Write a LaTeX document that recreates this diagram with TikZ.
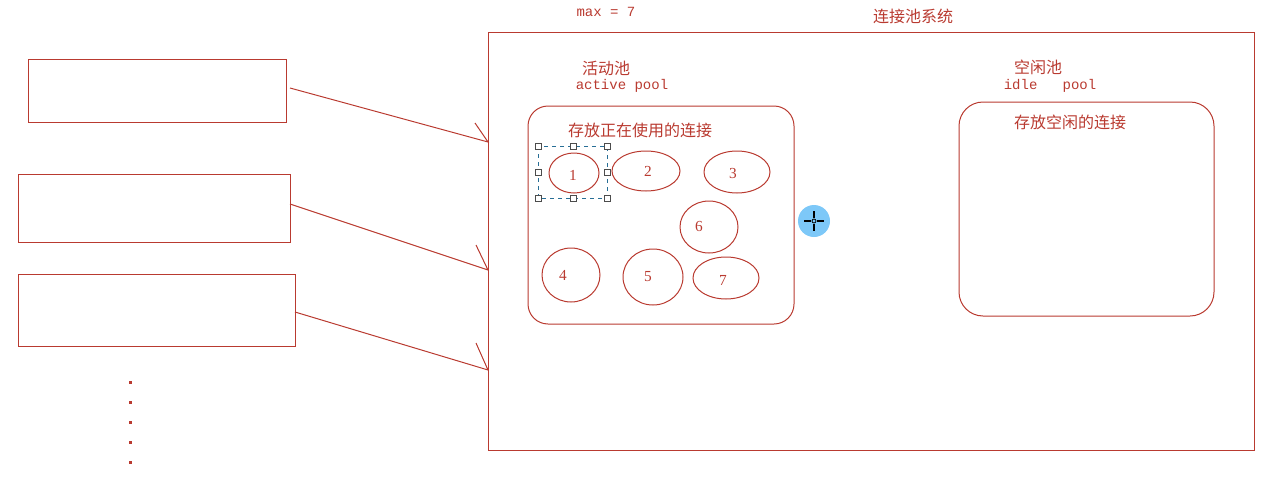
\documentclass[tikz,border=0pt]{standalone}
\usepackage{fontspec}
\newfontfamily\cjk{Noto Sans CJK SC}
\newfontfamily\mono{Liberation Mono}
\newfontfamily\digit{Liberation Serif}
\definecolor{dred}{RGB}{185,58,48}
\definecolor{selblue}{RGB}{40,110,150}
\definecolor{curblue}{RGB}{125,200,248}
\begin{document}
\begin{tikzpicture}[x=0.75pt,y=-0.75pt,
  box/.style={draw=dred,line width=0.75pt},
  conn/.style={draw=dred,line width=0.75pt},
  cjktext/.style={text=dred,font=\cjk\fontsize{12}{14}\selectfont,inner sep=0pt},
  monotext/.style={text=dred,font=\mono\fontsize{10.5}{12}\selectfont,inner sep=0pt},
  num/.style={text=dred,font=\digit\fontsize{11.5}{13}\selectfont,inner sep=0pt},
  handle/.style={draw=black!70,fill=white,line width=0.5pt,minimum size=4.5pt,inner sep=0pt,rectangle}]
\useasboundingbox (0,0) rectangle (1279,482);
% titles
\node[monotext] (max) at (606,12) {max = 7};
\node[cjktext] (sys) at (913,16) {连接池系统};
% big system rectangle
\draw[box] (488,32) rectangle (1254,450);
% left boxes
\draw[box] (28,59) rectangle (286,122);
\draw[box] (18,174) rectangle (290,242);
\draw[box] (18,274) rectangle (295,346);
\coordinate (s1) at (290,88);
\coordinate (s2) at (290,204);
\coordinate (s3) at (295,312);
\coordinate (e1) at (488,142);
\coordinate (e2) at (488,270);
\coordinate (e3) at (488,370);
\draw[conn] (s1) -- (e1) -- ++(-13,-19);
\draw[conn] (s2) -- (e2) -- ++(-12,-25);
\draw[conn] (s3) -- (e3) -- ++(-12,-27);
% dots
\foreach \yy in {382,402,422,442,462}
  \fill[dred] (129,\yy-1) rectangle (131.5,\yy+1.5);
% active pool
\node[cjktext] (act) at (606,68) {活动池};
\node[monotext] (actl) at (622,86) {active pool};
\draw[box,rounded corners=15] (528,106) rectangle (794,324);
\node[cjktext] (actd) at (640,130) {存放正在使用的连接};
% ellipses
\draw[conn] (574,173) ellipse [x radius=25, y radius=20];
\draw[conn] (646,171) ellipse [x radius=34, y radius=20];
\draw[conn] (737,172) ellipse [x radius=33, y radius=21];
\draw[conn] (709,227) ellipse [x radius=29, y radius=26];
\draw[conn] (571,275) ellipse [x radius=29, y radius=27];
\draw[conn] (653,277) ellipse [x radius=30, y radius=28];
\draw[conn] (726,278) ellipse [x radius=33, y radius=21];
\node[num] (n1) at (573,175) {1};
\node[num] (n2) at (648,171) {2};
\node[num] (n3) at (733,173) {3};
\node[num] (n6) at (699,226) {6};
\node[num] (n4) at (563,275) {4};
\node[num] (n5) at (648,277) {5};
\node[num] (n7) at (723,280) {7};
% selection box
\draw[selblue,dashed,line width=0.75pt] (538,146) rectangle (607,198);
\foreach \px/\py in {538/146,573/146,607/146,538/172,607/172,538/198,573/198,607/198}
  \node[handle] at (\px,\py) {};
% cursor
\fill[curblue] (814,221) circle [radius=16];
\draw[black,line width=0.9pt] (804,221) -- (811,221) (817,221) -- (824,221) (814,211) -- (814,218) (814,224) -- (814,231);
\draw[black,line width=0.6pt] (814,221) circle [radius=2];
% idle pool
\node[cjktext] (idle) at (1038,67) {空闲池};
\node[monotext] (idlel) at (1050,86) {idle\ \ \ pool};
\draw[box,rounded corners=18] (959,102) rectangle (1214,316);
\node[cjktext] (idled) at (1070,122) {存放空闲的连接};
\end{tikzpicture}
\end{document}
